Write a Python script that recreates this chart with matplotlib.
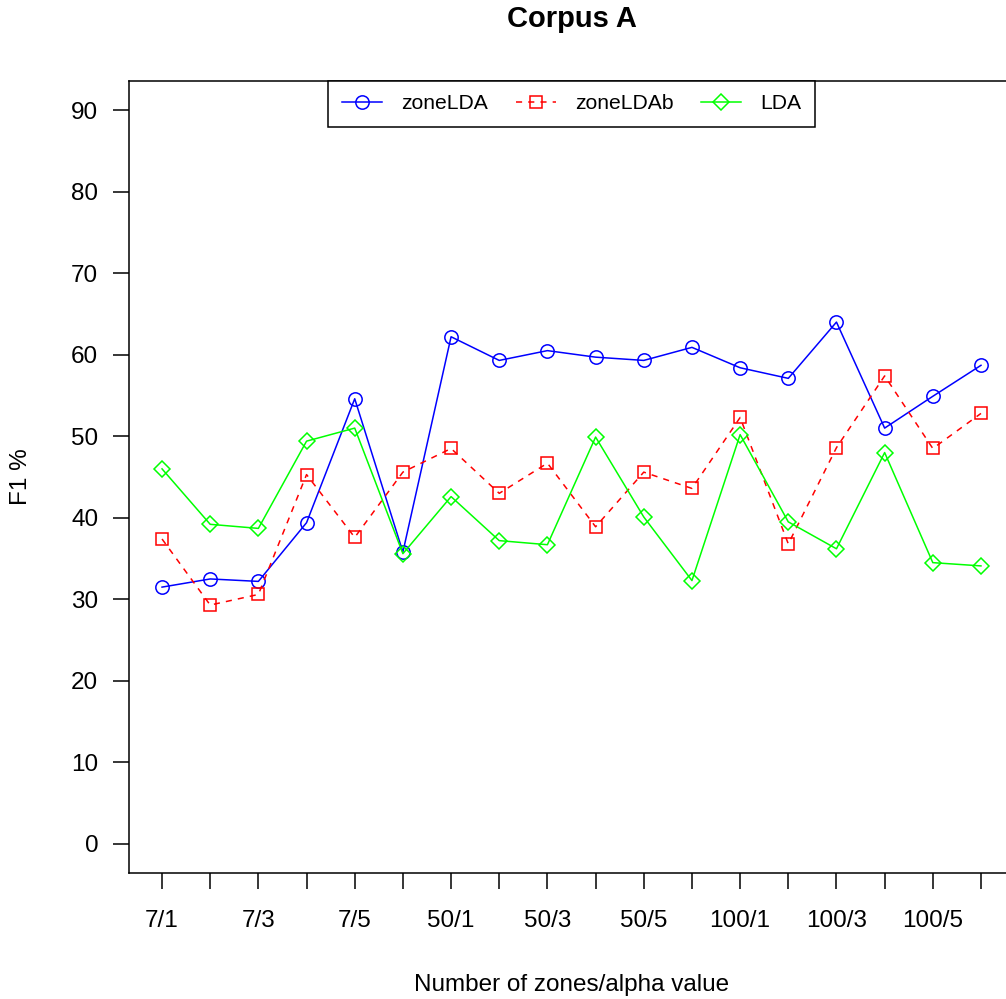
import matplotlib
matplotlib.use("Agg")
import matplotlib.pyplot as plt

plt.rcParams['font.family'] = ['Liberation Sans', 'DejaVu Sans']

# x positions: zones/alpha combinations
settings = ["7/1", "7/2", "7/3", "7/4", "7/5", "7/6",
            "50/1", "50/2", "50/3", "50/4", "50/5", "50/6",
            "100/1", "100/2", "100/3", "100/4", "100/5", "100/6"]
shown_labels = ["7/1", "7/3", "7/5", "50/1", "50/3", "50/5", "100/1", "100/3", "100/5"]

zone_lda = [31.5, 32.5, 32.2, 39.4, 54.6, 35.8,
            62.2, 59.3, 60.5, 59.7, 59.3, 60.9,
            58.4, 57.1, 64.0, 51.0, 54.9, 58.7]
zone_ldab = [37.4, 29.3, 30.6, 45.3, 37.6, 45.6,
             48.5, 43.0, 46.7, 38.9, 45.6, 43.6,
             52.3, 36.8, 48.6, 57.4, 48.5, 52.8]
lda = [46.0, 39.2, 38.7, 49.4, 51.0, 35.6,
       42.6, 37.2, 36.7, 49.9, 40.1, 32.3,
       50.2, 39.5, 36.2, 48.0, 34.5, 34.1]

x = list(range(1, len(settings) + 1))

fig = plt.figure(figsize=(10.06, 9.99), dpi=100)
ax = fig.add_axes([0.1285, 0.1258, 0.8792, 0.7934])

lw = 1.1
ax.plot(x, zone_lda, color='#0000FF', lw=lw, marker='o', ms=9.6,
        mfc='none', mew=lw, label='zoneLDA')
ax.plot(x, zone_ldab, color='#FF0000', lw=lw, ls=(0, (4, 4)), marker='s', ms=8.6,
        mfc='none', mew=lw, label='zoneLDAb')
ax.plot(x, lda, color='#00FF00', lw=lw, marker='D', ms=8.2,
        mfc='none', mew=lw, label='LDA')

ax.set_xlim(0.32, 18.68)
ax.set_ylim(-3.6, 93.6)
ax.set_yticks(range(0, 91, 10))
ax.set_xticks(x)
ax.set_xticklabels([s if s in shown_labels else "" for s in settings])

for sp in ax.spines.values():
    sp.set_linewidth(1.1)
ax.tick_params(axis='both', direction='out', length=11.3, width=1.1,
               labelsize=17.5)
ax.tick_params(axis='x', pad=15)
ax.tick_params(axis='y', pad=11)

ax.set_xlabel("Number of zones/alpha value", fontsize=17.5, labelpad=30)
ax.set_ylabel("F1 %", fontsize=17.5, labelpad=28)
fig.text(0.5685, 0.981, "Corpus A", fontsize=21, fontweight='bold',
         ha='center', va='center')

leg = ax.legend(loc='upper left', bbox_to_anchor=(0.2247, 0.0, 0.5506, 1.0),
                mode='expand', ncol=3, borderaxespad=0, fontsize=15.2,
                fancybox=False, edgecolor='black', framealpha=1,
                handlelength=1.9, handletextpad=0.9, columnspacing=0.8,
                borderpad=0.65)
leg.get_frame().set_linewidth(1.1)

fig.savefig("out.png", dpi=100)
